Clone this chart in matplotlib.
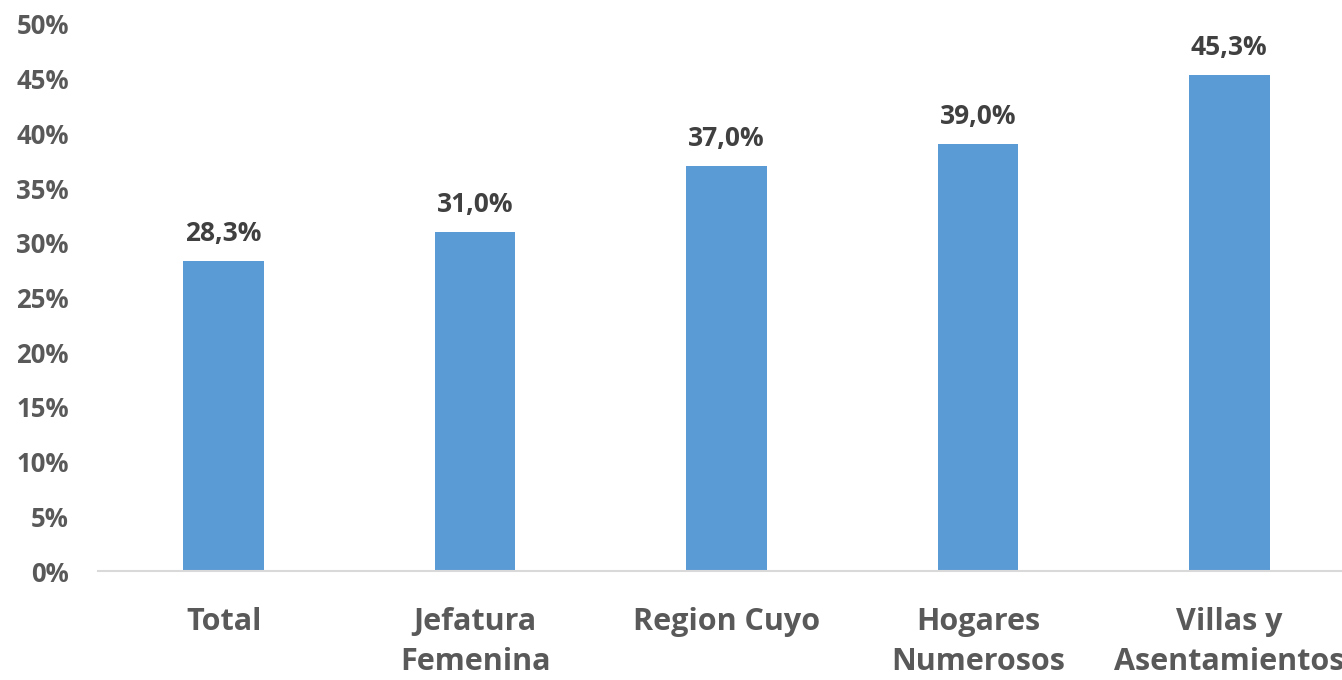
import matplotlib.pyplot as plt

categorias = ["Total", "Jefatura\nFemenina", "Region Cuyo", "Hogares\nNumerosos", "Villas y\nAsentamientos"]
valores = [28.3, 31.0, 37.0, 39.0, 45.3]
ticks_y = [0, 5, 10, 15, 20, 25, 30, 35, 40, 45, 50]

plt.rcParams['font.family'] = ['Open Sans', 'DejaVu Sans']

fig = plt.figure(figsize=(13.42, 6.8), dpi=100)
ax = fig.add_axes([98 / 1342, 109 / 680, 1257 / 1342, 547 / 680])

x = list(range(len(categorias)))
ax.bar(x, valores, width=0.32, color='#5B9BD5', zorder=2)

for xi, v in zip(x, valores):
    ax.text(xi, v + 1.3, f"{v:.1f}%".replace('.', ','), ha='center', va='bottom',
            fontsize=19, fontweight='bold', color='#404040')

ax.set_xlim(-0.5, len(categorias) - 0.5)
ax.set_ylim(0, 50)
ax.set_yticks(ticks_y)
ax.set_yticklabels([f"{t}%" for t in ticks_y])
ax.set_xticks(x)
ax.set_xticklabels(categorias, linespacing=1.45)

for lbl in ax.get_yticklabels():
    lbl.set_fontsize(18.5)
    lbl.set_fontweight('bold')
    lbl.set_color('#595959')
for lbl in ax.get_xticklabels():
    lbl.set_fontsize(22)
    lbl.set_fontweight('bold')
    lbl.set_color('#595959')

ax.tick_params(axis='both', length=0)
ax.tick_params(axis='y', pad=21)
ax.tick_params(axis='x', pad=26)

for s in ['top', 'right', 'left']:
    ax.spines[s].set_visible(False)
ax.spines['bottom'].set_color('#D9D9D9')
ax.spines['bottom'].set_linewidth(1.5)

fig.savefig('out.png', dpi=100)
